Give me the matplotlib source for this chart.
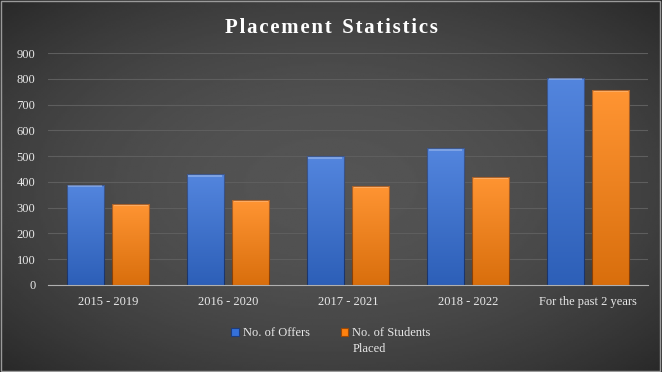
import matplotlib.pyplot as plt
import numpy as np
from matplotlib.patches import Rectangle

categories = ["2015 - 2019", "2016 - 2020", "2017 - 2021", "2018 - 2022", "For the past 2 years"]
offers = [390, 430, 500, 530, 805]
placed = [315, 330, 385, 420, 757]

plt.rcParams['font.family'] = ['Liberation Serif', 'DejaVu Serif']

fig = plt.figure(figsize=(6.62, 3.72), dpi=100)

# radial gradient background, grey centre fading to dark edges
bg = fig.add_axes([0, 0, 1, 1], zorder=-10)
yy, xx = np.mgrid[-1:1:200j, -1:1:300j]
r2 = np.clip((xx ** 2 + yy ** 2) / 2, 0, 1)
shade = 0.33 - 0.17 * r2
bg.imshow(shade, cmap="gray", vmin=0, vmax=1, aspect="auto", extent=[0, 1, 0, 1])
bg.add_patch(Rectangle((0.002, 0.003), 0.995, 0.993, fill=False, edgecolor="#9a9a9a", lw=1))
bg.set_xlim(0, 1)
bg.set_ylim(0, 1)
bg.axis("off")

ax = fig.add_axes([0.0725, 0.234, 0.9065, 0.623])
ax.patch.set_alpha(0)

x = np.arange(len(categories))
w = 0.31
b1 = ax.bar(x - 0.19, offers, w, color="#3570d8", edgecolor="#1d3c7c", lw=0.8, zorder=3)
b2 = ax.bar(x + 0.19, placed, w, color="#ff820f", edgecolor="#9c4806", lw=0.8, zorder=3)

# shading inside bars
grad = np.linspace(0, 1, 100).reshape(-1, 1)
for bars in (b1, b2):
    for b in bars:
        x0, y0 = b.get_x(), b.get_y()
        bw, bh = b.get_width(), b.get_height()
        im = ax.imshow(grad, cmap="gray", alpha=0.15, aspect="auto",
                       extent=[x0, x0 + bw, y0, y0 + bh], origin="lower", zorder=4)
        im.set_clip_path(b)
        ax.add_patch(Rectangle((x0 + bw * 0.05, y0 + bh - 9), bw * 0.9, 6,
                               color="white", alpha=0.25, lw=0, zorder=5))

ax.set_xlim(-0.5, len(categories) - 0.5)
ax.set_ylim(0, 900)
ax.set_yticks(range(0, 901, 100))
ax.set_xticks(x)
ax.set_xticklabels(categories)
ax.grid(axis="y", color="#5e5e5e", lw=0.8, zorder=0)
ax.tick_params(colors="#e8e8e8", labelsize=9, length=0)
ax.tick_params(axis="x", pad=8)
ax.tick_params(axis="y", pad=9)
for s in ["top", "right", "left"]:
    ax.spines[s].set_visible(False)
ax.spines["bottom"].set_color("#b0b0b0")
ax.spines["bottom"].set_zorder(6)

title = "\u200a".join("Placement") + "  " + "\u200a".join("Statistics")
fig.text(0.5, 0.925, title, color="white", fontsize=15, fontweight="bold",
         ha="center", va="center")

leg = fig.legend([b1, b2], ["No. of Offers", "No. of Students"],
                 loc="center", bbox_to_anchor=(0.5, 0.105), ncol=2,
                 frameon=False, fontsize=9, labelcolor="#e8e8e8",
                 handlelength=0.6, handleheight=0.6, handletextpad=0.3,
                 columnspacing=2.5)

# second line of the wrapped legend label
fig.canvas.draw()
bb = leg.get_texts()[1].get_window_extent().transformed(fig.transFigure.inverted())
fig.text(bb.x0, bb.y0 - 0.012, "Placed", color="#e8e8e8", fontsize=9,
         ha="left", va="top")

fig.savefig("out.png", dpi=100)
